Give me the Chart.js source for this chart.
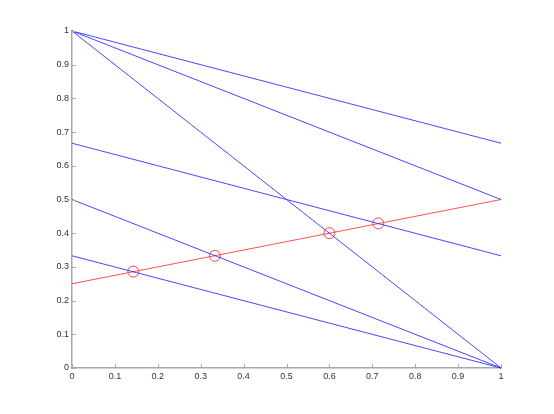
<!DOCTYPE html>
<html>
<head>
<meta charset="utf-8">
<script src="https://cdn.jsdelivr.net/npm/chart.js@4/dist/chart.umd.min.js"></script>
<style>
  html, body { margin: 0; padding: 0; background: #fff; }
  #wrap { width: 554px; height: 414px; }
</style>
</head>
<body>
<div id="wrap"><canvas id="lines"></canvas></div>
<script>
// blue lines from x=0 to x=1
var blueStart = [1, 1, 1, 0.667, 0.5, 0.333];
var blueEnd = [0.667, 0.5, 0, 0.333, 0, 0];
// red line
var redStart = 0.25;
var redEnd = 0.5;
// red circles where the red line crosses
var circleX = [0.143, 0.333, 0.6, 0.714];
var circleY = [0.286, 0.333, 0.4, 0.429];
var tickValues = [0, 0.1, 0.2, 0.3, 0.4, 0.5, 0.6, 0.7, 0.8, 0.9, 1];

var axisGray = '#a8a8a8';

var datasets = [];
for (var i = 0; i < blueStart.length; i++) {
     datasets.push({
          data: [{x: 0, y: blueStart[i]}, {x: 1, y: blueEnd[i]}],
          showLine: true,
          borderColor: 'rgba(40,40,255,0.85)',
          borderWidth: 1,
          pointRadius: 0,
          clip: false
     });
}
datasets.push({
     data: [{x: 0, y: redStart}, {x: 1, y: redEnd}],
     showLine: true,
     borderColor: 'rgba(255,50,50,0.85)',
     borderWidth: 1,
     pointRadius: 0,
     clip: false
});
datasets.push({
     data: circleX.map(function (x, k) { return {x: x, y: circleY[k]}; }),
     showLine: false,
     pointStyle: 'circle',
     pointRadius: 5.5,
     pointBorderColor: 'rgba(255,50,50,0.9)',
     pointBackgroundColor: 'rgba(0,0,0,0)',
     pointBorderWidth: 1,
     clip: false
});

// matlab style ticks pointing into the plot
var inwardTicks = {
     id: 'inwardTicks',
     afterDatasetsDraw: function (chart) {
          var ctx = chart.ctx, area = chart.chartArea;
          ctx.save();
          ctx.strokeStyle = axisGray;
          ctx.lineWidth = 1;
          tickValues.forEach(function (v) {
               var px = Math.round(chart.scales.x.getPixelForValue(v)) + 0.5;
               ctx.beginPath();
               ctx.moveTo(px, area.bottom);
               ctx.lineTo(px, area.bottom - 4);
               ctx.stroke();
               var py = Math.round(chart.scales.y.getPixelForValue(v)) + 0.5;
               ctx.beginPath();
               ctx.moveTo(area.left, py);
               ctx.lineTo(area.left + 4, py);
               ctx.stroke();
          });
          ctx.restore();
     }
};

var tickFont = { family: 'Liberation Sans, Arial, sans-serif', size: 9 };

function makeAxis(isY) {
     return {
          type: 'linear',
          min: 0,
          max: 1,
          afterBuildTicks: function (scale) {
               scale.ticks = tickValues.map(function (v) { return {value: v}; });
          },
          afterFit: function (scale) {
               if (isY) { scale.width = 72; } else { scale.height = 46; }
          },
          ticks: {
               color: '#333',
               font: tickFont,
               padding: 3,
               maxRotation: 0,
               autoSkip: false,
               callback: function (v) { return String(Math.round(v * 10) / 10); }
          },
          grid: { display: false, drawTicks: false },
          border: { display: true, color: axisGray, width: 1.5 }
     };
}

new Chart(document.getElementById('lines'), {
     type: 'scatter',
     data: { datasets: datasets },
     options: {
          responsive: true,
          maintainAspectRatio: false,
          animation: false,
          layout: { padding: { left: 0, top: 31, right: 53, bottom: 0 } },
          plugins: { legend: { display: false }, tooltip: { enabled: false } },
          scales: { x: makeAxis(false), y: makeAxis(true) }
     },
     plugins: [inwardTicks]
});
</script>
</body>
</html>
